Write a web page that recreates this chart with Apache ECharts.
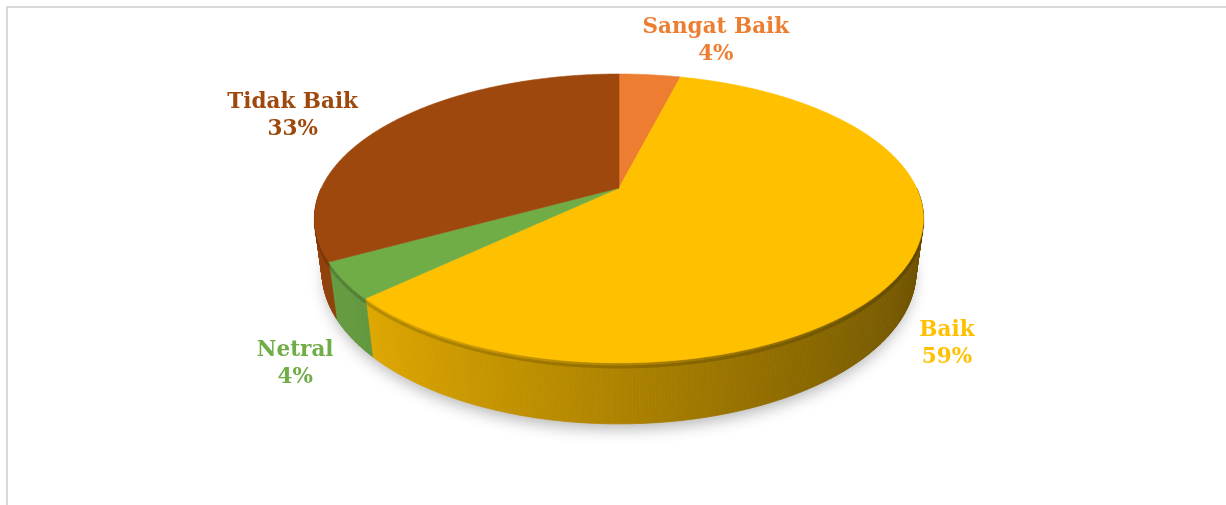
<!DOCTYPE html>
<html>
<head>
<meta charset="utf-8">
<script src="https://cdn.jsdelivr.net/npm/echarts@6/dist/echarts.min.js"></script>
<style>
  html, body { margin: 0; padding: 0; background: #fff; }
  #chart { width: 1226px; height: 505px; }
</style>
</head>
<body>
<div id="chart"></div>
<script>
// Survey result shares
const categories = ['Sangat Baik', 'Baik', 'Netral', 'Tidak Baik'];
const percentages = [4, 59, 4, 33];
const sliceColors = ['#ED7D31', '#FFC000', '#70AD47', '#9E480E'];

// Perspective camera for the tilted disc
const view = {
  cx: 619, cy: 188,
  fx: 1241, fy: 1206,
  dist: 4.17,
  tilt: 28.5 * Math.PI / 180,
  depth: 0.212
};
// Label placement relative to the rim point at each slice's middle angle
const labelNudge = [[66, -34], [41, 77], [-49, 83], [-95, -9]];

const total = percentages.reduce((a, b) => a + b, 0);

function sliceRange(i) {
  let s = 0;
  for (let k = 0; k < i; k++) s += percentages[k];
  return [s / total * 2 * Math.PI, (s + percentages[i]) / total * 2 * Math.PI];
}

// theta runs clockwise from the far edge of the disc; h is height (0 = top face)
function project(theta, r, h) {
  const X = r * Math.sin(theta), Z = -r * Math.cos(theta);
  const sp = Math.sin(view.tilt), cp = Math.cos(view.tilt);
  const up = h * cp - Z * sp;
  const toward = h * sp + Z * cp;
  const w = view.dist - toward;
  return [view.cx + view.fx * X / w, view.cy - view.fy * up / w];
}

function shade(hex, f) {
  const n = parseInt(hex.slice(1), 16);
  const r = Math.min(255, Math.round(((n >> 16) & 255) * f));
  const g = Math.min(255, Math.round(((n >> 8) & 255) * f));
  const b = Math.min(255, Math.round((n & 255) * f));
  return 'rgb(' + r + ',' + g + ',' + b + ')';
}

// light comes from the front-left, so the right side of the rim is darker
function sideFactor(theta) {
  return 0.68 - 0.26 * Math.sin(theta);
}

function renderSide(params) {
  const i = params.dataIndex;
  const [a, b] = sliceRange(i);
  const lo = Math.max(a, Math.PI / 2), hi = Math.min(b, 1.5 * Math.PI);
  const children = [];
  if (hi > lo) {
    const steps = Math.max(2, Math.ceil((hi - lo) / (Math.PI / 360)));
    for (let k = 0; k < steps; k++) {
      const t0 = lo + (hi - lo) * k / steps;
      const t1 = lo + (hi - lo) * (k + 1) / steps;
      const c = shade(sliceColors[i], sideFactor((t0 + t1) / 2));
      children.push({
        type: 'polygon',
        shape: { points: [project(t0, 1, 0), project(t1, 1, 0), project(t1, 1, -view.depth), project(t0, 1, -view.depth)] },
        style: { fill: c, stroke: c, lineWidth: 0.8 }
      });
    }
    // dark seam under the bevel of the top face
    const seam = [];
    for (let k = 0; k <= steps; k++) seam.push(project(lo + (hi - lo) * k / steps, 1, -0.014));
    children.push({
      type: 'polyline',
      shape: { points: seam },
      style: { fill: null, stroke: 'rgba(0,0,0,0.16)', lineWidth: 3 }
    });
  }
  return { type: 'group', children: children };
}

function renderTop(params) {
  const i = params.dataIndex;
  const [a, b] = sliceRange(i);
  const steps = Math.max(4, Math.ceil((b - a) / (Math.PI / 360)));
  const pts = [project(0, 0, 0)];
  for (let k = 0; k <= steps; k++) pts.push(project(a + (b - a) * k / steps, 1, 0));
  const mid = (a + b) / 2;
  const anchor = project(mid, 1, 0);
  return {
    type: 'group',
    children: [
      {
        type: 'polygon',
        shape: { points: pts },
        style: { fill: sliceColors[i], stroke: sliceColors[i], lineWidth: 0.6 }
      },
      {
        type: 'text',
        x: anchor[0] + labelNudge[i][0],
        y: anchor[1] + labelNudge[i][1],
        z2: 20,
        style: {
          text: categories[i] + '\n' + percentages[i] + '%',
          fill: sliceColors[i],
          fontFamily: 'DejaVu Serif',
          fontWeight: 'bold',
          fontSize: 21.5,
          lineHeight: 27,
          align: 'center',
          verticalAlign: 'middle'
        }
      }
    ]
  };
}

// soft drop shadow under the disc
const shadowPts = [];
for (let k = 0; k < 360; k++) shadowPts.push(project(k * Math.PI / 180, 0.99, -view.depth));

const chart = echarts.init(document.getElementById('chart'), null, { renderer: 'canvas' });
chart.setOption({
  backgroundColor: '#ffffff',
  animation: false,
  graphic: [
    {
      type: 'rect',
      z: 0,
      shape: { x: 7, y: 7, width: 1240, height: 520 },
      style: { fill: null, stroke: '#d9d9d9', lineWidth: 2 }
    },
    {
      type: 'polygon',
      z: 1,
      shape: { points: shadowPts },
      style: { fill: '#ffffff', shadowBlur: 16, shadowColor: 'rgba(0,0,0,0.30)', shadowOffsetY: 7 }
    }
  ],
  series: [
    {
      type: 'custom',
      name: 'side',
      coordinateSystem: 'none',
      z: 5,
      silent: true,
      data: percentages,
      renderItem: renderSide
    },
    {
      type: 'custom',
      name: 'top',
      coordinateSystem: 'none',
      z: 6,
      silent: true,
      data: percentages,
      renderItem: renderTop
    }
  ]
});
</script>
</body>
</html>
